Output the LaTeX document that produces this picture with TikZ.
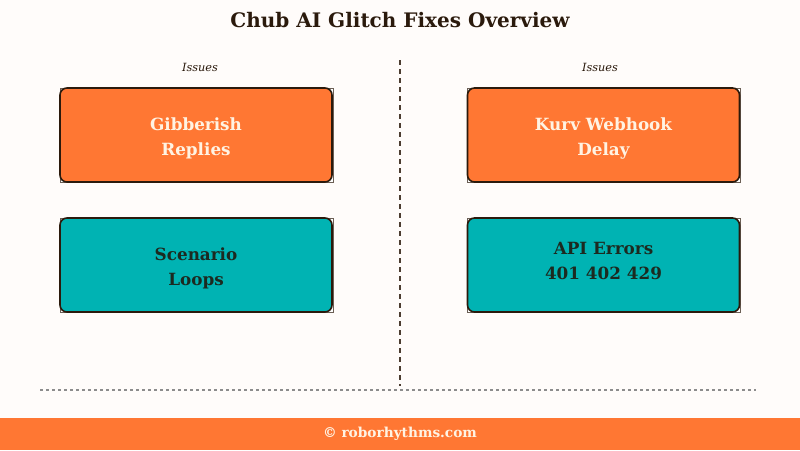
\documentclass[tikz,border=0pt]{standalone}
\usepackage{fontspec}
\setmainfont{DejaVu Serif}
\definecolor{bg}{HTML}{FFFCFA}
\definecolor{orng}{HTML}{FF7733}
\definecolor{teal}{HTML}{00B3B3}
\definecolor{dk}{HTML}{2B1A0C}
\definecolor{cream}{HTML}{FFF3E3}
\definecolor{txtdk}{HTML}{1C2A20}
\begin{document}
\begin{tikzpicture}[x=1pt,y=-1pt,
  card/.style={draw=dk,line width=1.6pt,rounded corners=7pt,minimum width=272pt,minimum height=94pt,inner sep=0pt},
  cardtext/.style={align=center,font=\fontsize{16.8}{25}\selectfont\bfseries,inner sep=0pt},
  corner/.style={draw=dk!70,line width=0.8pt,fill=white},
  hot/.style={card,fill=orng},
  cool/.style={card,fill=teal},
  lbl/.style={font=\fontsize{11.3}{13}\selectfont\itshape,text=dk}]
\fill[bg] (0,0) rectangle (800,450);
\useasboundingbox (0,0) rectangle (800,450);
\node[font=\fontsize{20}{22}\selectfont\bfseries,text=dk] (title) at (400,20) {Chub AI Glitch Fixes Overview};
\node[lbl] (l1) at (200,67) {Issues};
\node[lbl] (l2) at (600,67) {Issues};
\draw[dk!85,line width=1.2pt,dash pattern=on 5pt off 4pt] (400,60) coordinate (vt) -- (400,386) coordinate (vb);
\draw[gray!90,line width=1.2pt,dash pattern=on 3pt off 3pt] (40,390) coordinate (hl) -- (756,390) coordinate (hr);
\foreach \x/\y in {60/88,467/88,60/218,467/218}{
  \draw[corner] (\x,\y) rectangle ++(273,94);
}
\node[hot] (a) at (196,135) {};
\node[hot] (b) at (603.5,135) {};
\node[cool] (c) at (196,265) {};
\node[cool] (d) at (603.5,265) {};
\node[cardtext,text=cream] (at) at ([yshift=-3pt]a.center) {Gibberish\\Replies};
\node[cardtext,text=cream] (bt) at ([yshift=-3pt]b.center) {Kurv Webhook\\Delay};
\node[cardtext,text=txtdk] (ct) at ([yshift=-3pt]c.center) {Scenario\\Loops};
\node[cardtext,text=txtdk] (dt) at ([yshift=4pt]d.center) {API Errors\\401 402 429};
\fill[orng] (0,418) rectangle (800,450);
\node[font=\fontsize{13.7}{14}\selectfont\bfseries,text=cream] (foot) at (400,434) {© roborhythms.com};
\end{tikzpicture}
\end{document}
